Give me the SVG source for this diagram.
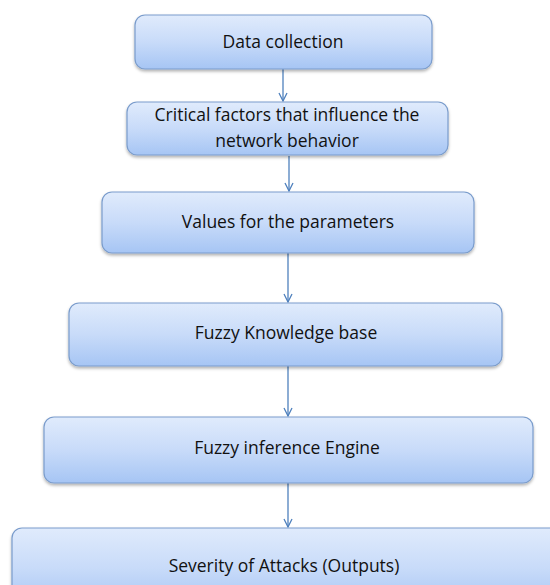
<svg xmlns="http://www.w3.org/2000/svg" width="550" height="585" viewBox="0 0 550 585">
<defs>
<linearGradient id="g" x1="0" y1="0" x2="0" y2="1">
<stop offset="0" stop-color="#e0ebfc"/>
<stop offset="0.5" stop-color="#c8dbf9"/>
<stop offset="1" stop-color="#a6c5f4"/>
</linearGradient>
<filter id="sh" x="-5%" y="-10%" width="110%" height="130%">
<feDropShadow dx="0" dy="2" stdDeviation="1.5" flood-color="#000" flood-opacity="0.3"/>
</filter>
<marker id="arr" viewBox="0 0 10 10" refX="9" refY="5" markerWidth="10" markerHeight="10" markerUnits="userSpaceOnUse" orient="auto">
<path d="M1,1 L9,5 L1,9" fill="none" stroke="#4f81bd" stroke-width="1.3"/>
</marker>
</defs>
<style>
.box{fill:url(#g);stroke:#7a9ccc;stroke-width:1.2;filter:url(#sh)}
.t{font-family:"Open Sans","Liberation Sans",sans-serif;font-size:17.5px;fill:#111;text-anchor:middle}
.c{stroke:#4f81bd;stroke-width:1.3;fill:none;marker-end:url(#arr)}
</style>
<rect width="550" height="585" fill="#fff"/>
<g id="connectors">
<line class="c" x1="283" y1="69" x2="283" y2="101"/>
<line class="c" x1="289" y1="156" x2="289" y2="191"/>
<line class="c" x1="288" y1="253" x2="288" y2="302"/>
<line class="c" x1="288" y1="366" x2="288" y2="416"/>
<line class="c" x1="288" y1="483" x2="288" y2="527"/>
</g>
<g id="n1"><rect class="box" x="135" y="15" width="297" height="54" rx="10"/><text class="t" x="283" y="48">Data collection</text></g>
<g id="n2"><rect class="box" x="127" y="102" width="321" height="53" rx="10"/><text class="t" x="287" y="121">Critical factors that influence the</text><text class="t" x="287" y="146.5">network behavior</text></g>
<g id="n3"><rect class="box" x="102" y="192" width="372" height="61" rx="10"/><text class="t" x="288" y="228">Values for the parameters</text></g>
<g id="n4"><rect class="box" x="69" y="303" width="433" height="63" rx="10"/><text class="t" x="286" y="339">Fuzzy Knowledge base</text></g>
<g id="n5"><rect class="box" x="44" y="417" width="489" height="66" rx="10"/><text class="t" x="287" y="454">Fuzzy inference Engine</text></g>
<g id="n6"><rect class="box" x="12" y="528" width="560" height="80" rx="10"/><text class="t" x="284" y="572">Severity of Attacks (Outputs)</text></g>
</svg>
